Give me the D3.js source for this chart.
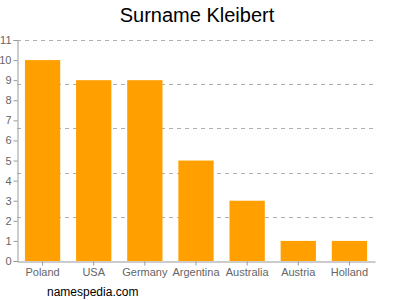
<!DOCTYPE html>
<html>
<head>
<meta charset="utf-8">
<script src="https://cdn.jsdelivr.net/npm/d3@7"></script>
<style>
  body { margin: 0; background: #fff; }
  text { font-family: "Liberation Sans", Arial, sans-serif; }
</style>
</head>
<body>
<svg id="chart" width="400" height="300"></svg>
<script>
const countries = ["Poland", "USA", "Germany", "Argentina", "Australia", "Austria", "Holland"];
const counts = [10, 9, 9, 5, 3, 1, 1];
const yTicks = [0, 1, 2, 3, 4, 5, 6, 7, 8, 9, 10, 11];
const gridVals = [2.2, 4.4, 6.6, 8.8, 11];

const svg = d3.select("#chart");
const plotLeft = 17, plotRight = 375, plotTop = 40, plotBottom = 261;

const x = d3.scaleBand().domain(countries).range([plotLeft, plotRight]).paddingInner(0.31).paddingOuter(0.155);
const y = d3.scaleLinear().domain([0, 11]).range([plotBottom, plotTop]);

// title
svg.append("text")
    .attr("x", 197).attr("y", 22)
    .attr("text-anchor", "middle")
    .style("font-size", "20px")
    .style("fill", "#000")
    .text("Surname Kleibert");

// dashed grid lines
gridVals.forEach(v =>
    svg.append("line")
        .attr("x1", plotLeft).attr("x2", plotRight)
        .attr("y1", Math.round(y(v)) + 0.5).attr("y2", Math.round(y(v)) + 0.5)
        .attr("stroke", "#b0b0b0")
        .attr("stroke-dasharray", "4,4")
);

// bars
svg.selectAll("rect.bar")
    .data(countries)
    .enter().append("rect")
    .attr("class", "bar")
    .attr("x", d => x(d))
    .attr("width", x.bandwidth())
    .attr("y", (d, i) => y(counts[i]))
    .attr("height", (d, i) => y(0) - y(counts[i]))
    .attr("fill", "#ffa000");

// y axis
const yAxis = svg.append("g")
    .attr("transform", "translate(" + (plotLeft + 0.5) + ",0)")
    .call(d3.axisLeft(y).tickValues(yTicks).tickSize(4).tickPadding(2).tickFormat(d3.format("d")));
yAxis.select(".domain").attr("stroke", "#999");
yAxis.selectAll(".tick line").attr("stroke", "#999");
yAxis.selectAll("text").style("font-size", "11px").style("fill", "#666").style("font-family", "Liberation Sans, Arial, sans-serif");

// x axis
const xAxis = svg.append("g")
    .attr("transform", "translate(0," + (plotBottom + 0.5) + ")")
    .call(d3.axisBottom(x).tickSize(4).tickPadding(3).tickSizeOuter(0));
xAxis.select(".domain").attr("stroke", "#999");
xAxis.selectAll(".tick line").attr("stroke", "#999");
xAxis.selectAll("text").style("font-size", "11px").style("fill", "#666").style("font-family", "Liberation Sans, Arial, sans-serif");

// footer
svg.append("text")
    .attr("x", 47).attr("y", 296)
    .style("font-size", "12px")
    .style("fill", "#000")
    .text("namespedia.com");
</script>
</body>
</html>
